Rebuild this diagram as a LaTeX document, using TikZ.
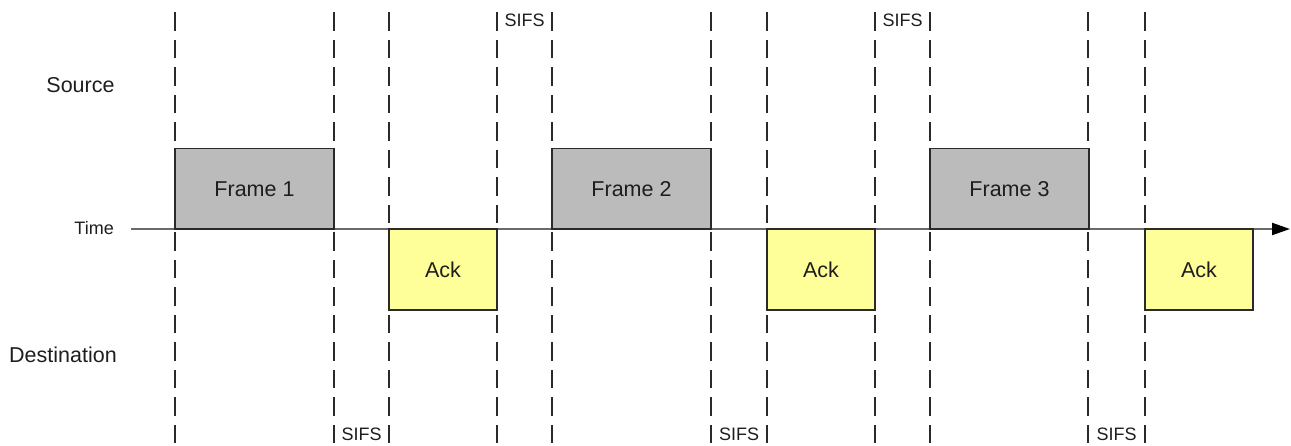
\documentclass[tikz,border=0pt]{standalone}
\usepackage{fontspec}
\setmainfont{Liberation Sans}
\usetikzlibrary{arrows.meta}
\definecolor{framegray}{HTML}{BBBBBB}
\definecolor{ackyellow}{HTML}{FFFF99}
\definecolor{linedark}{HTML}{2A2A2A}
\definecolor{axisgray}{HTML}{6A6A6A}
\definecolor{txt}{HTML}{1E1E1E}
\begin{document}
\begin{tikzpicture}[x=1pt,y=-1pt,
  vline/.style={draw=linedark,line width=2.8pt,dash pattern=on 18.5pt off 9pt},
  axisline/.style={draw=axisgray,line width=2pt,-{Triangle[length=18pt,width=12pt,color=black,fill=black]}},
  framebox/.style={draw=linedark,line width=1.4pt,fill=framegray,minimum width=159pt,minimum height=80.5pt,anchor=north west,inner sep=0pt,outer sep=0pt,text=txt,font=\fontsize{21.5}{24}\selectfont},
  ackbox/.style={draw=linedark,line width=1.4pt,fill=ackyellow,minimum width=108pt,minimum height=81pt,anchor=north west,inner sep=0pt,outer sep=0pt,text=txt,font=\fontsize{21.5}{24}\selectfont},
  biglabel/.style={text=txt,font=\fontsize{21.5}{24}\selectfont,inner sep=0pt},
  smalllabel/.style={text=txt,font=\fontsize{18}{20}\selectfont,inner sep=0pt}]
\useasboundingbox (0,0) rectangle (1291,446);
% vertical dashed guide lines
\foreach \n/\xx in {a/175,b/334,c/389,d/497,e/552,f/711,g/767,h/875,i/930,j/1088,k/1145}{
  \coordinate (top\n) at (\xx,12.3);
  \coordinate (bot\n) at (\xx,443);
  \draw[vline] (top\n) -- (bot\n);
}
% time axis
\coordinate (tstart) at (131,229);
\coordinate (tend) at (1290,229);
\draw[axisline] (tstart) -- (tend);
% frames and acks
\node[framebox] (f1) at (175,148.5) {Frame 1};
\node[ackbox] (a1) at (389,229) {Ack};
\node[framebox] (f2) at (552,148.5) {Frame 2};
\node[ackbox] (a2) at (767,229) {Ack};
\node[framebox] (f3) at (930,148.5) {Frame 3};
\node[ackbox] (a3) at (1145,229) {Ack};
% labels
\node[biglabel] (src) at (80.5,85) {Source};
\node[biglabel] (dst) at (63,355) {Destination};
\node[smalllabel,anchor=east] (time) at (114,228) {Time};
\node[smalllabel] (s1) at (524.5,20) {SIFS};
\node[smalllabel] (s2) at (902.5,20) {SIFS};
\node[smalllabel] (s3) at (361.5,434) {SIFS};
\node[smalllabel] (s4) at (739,434) {SIFS};
\node[smalllabel] (s5) at (1116.5,434) {SIFS};
\end{tikzpicture}
\end{document}
